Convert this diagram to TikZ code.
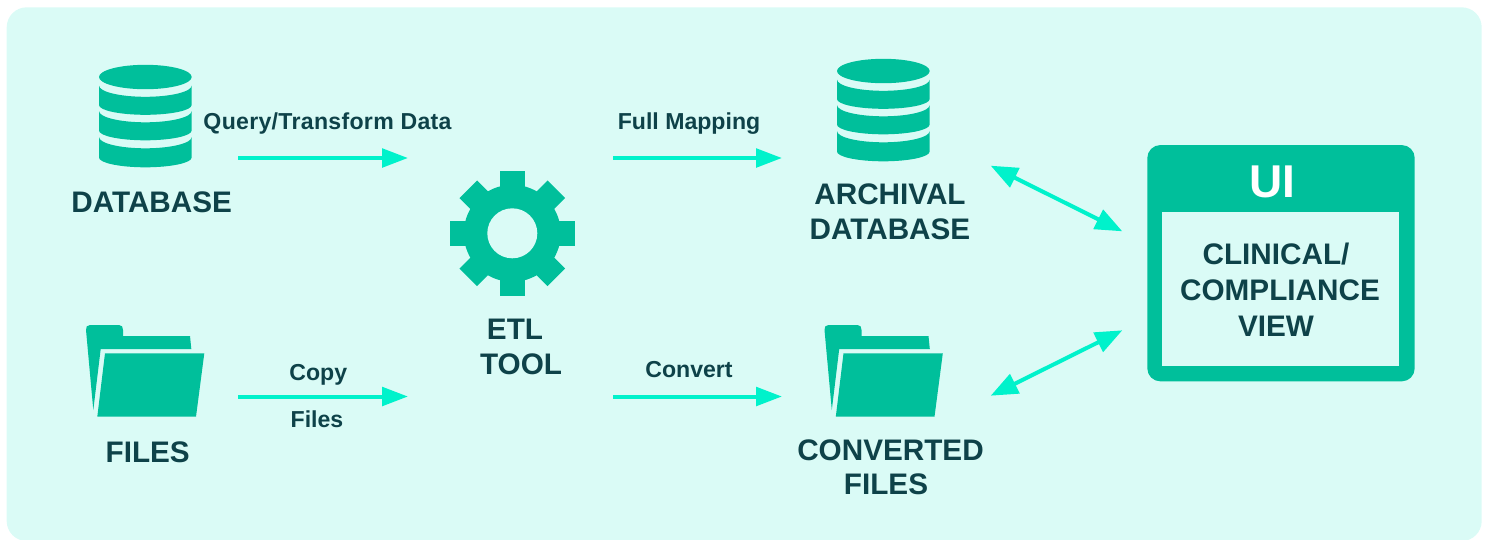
\documentclass[tikz,border=0pt]{standalone}
\usepackage{fontspec}
\setmainfont{Liberation Sans}
\usetikzlibrary{arrows.meta}
\definecolor{panelbg}{HTML}{DAFBF6}
\definecolor{teal}{HTML}{00BF9B}
\definecolor{ink}{HTML}{0E4249}
\definecolor{flow}{HTML}{00F2CB}
\tikzset{
  x=1pt,y=-1pt,
  big/.style={text=ink,font=\fontsize{29.7}{35}\selectfont\bfseries,anchor=base,inner sep=0pt},
  small/.style={text=ink,font=\fontsize{23.1}{26}\selectfont\bfseries,anchor=base,inner sep=0pt},
  flowline/.style={draw=flow,line width=4pt,-{Triangle[length=26pt,width=18.5pt,fill=flow]}},
  flowboth/.style={draw=flow,line width=4pt,{Triangle[length=27pt,width=21pt,fill=flow]}-{Triangle[length=27pt,width=21pt,fill=flow]}},
  dbicon/.pic={
    \fill[teal] (145.35,77) ellipse [x radius=46.35,y radius=12.2];
    \foreach \t/\b in {85.5/105,111/130.5,137/157.5}{
      \fill[teal] (99,\t) arc[start angle=180,end angle=0,x radius=46.35,y radius=11.3]
        -- (191.7,\b) arc[start angle=0,end angle=180,x radius=46.35,y radius=9.8] -- cycle;
    }
  },
  foldericon/.pic={
    \fill[teal] (93.3,410) -- (86,330) .. controls (85.7,327) and (87,325) .. (90,325)
      -- (119,325) .. controls (122,325) and (123,327) .. (123,330) -- (123,336)
      -- (190,336) -- (191.3,349) -- (100.7,349) -- cycle;
    \fill[teal] (105,353.3) -- (204.3,353.3) -- (196,416.7) -- (97.3,416.7) -- cycle;
  },
}
\begin{document}
\begin{tikzpicture}
\useasboundingbox (0,0) rectangle (1487,539);
\begin{scope}
\clip (0,0) rectangle (1487,539);
\fill[panelbg,rounded corners=20pt] (6.7,7.3) rectangle (1481.7,541);
\end{scope}

% icons
\pic at (0,0) {dbicon};
\pic at (738,-6) {dbicon};
\pic at (0,0) {foldericon};
\pic at (738.5,0) {foldericon};

% gear
\begin{scope}[shift={(512.3,233.3)}]
  \fill[teal] (0,0) circle[radius=48.5];
  \foreach \a in {0,45,...,315}{
    \fill[teal,rotate=\a] (-12.4,-62.3) rectangle (12.4,-40);
  }
  \fill[panelbg] (0,0) circle[radius=25];
\end{scope}

% UI panel
\node[fill=teal,rounded corners=13pt,minimum width=267.4pt,minimum height=236.3pt,inner sep=0pt] (uibox) at (1281,263.2) {};
\node[fill=panelbg,minimum width=237pt,minimum height=154.6pt,inner sep=0pt] (uiview) at (1280.8,289) {};

% big labels
\node[big] (dblabel) at (151.7,212.7) {DATABASE};
\node[big] (fileslabel) at (147.7,462.3) {FILES};
\node[big] (etl) at (515,339) {ETL};
\node[big] (tool) at (521,374) {TOOL};
\node[big] (archival) at (890,204.5) {ARCHIVAL};
\node[big] (archdb) at (890,239.5) {DATABASE};
\node[big] (converted) at (890.5,460) {CONVERTED};
\node[big] (convfiles) at (886,494) {FILES};
\node[big,text=white,font=\fontsize{46}{50}\selectfont\bfseries] (ui) at (1272.7,197.7) {UI};
\node[big] (clinical) at (1276,264.3) {CLINICAL/};
\node[big] (compliance) at (1280,300.7) {COMPLIANCE};
\node[big] (view) at (1276,336) {VIEW};

% small labels
\node[small] (qt) at (327.5,129) {\addfontfeature{LetterSpace=1.3}Query/Transform Data};
\node[small] (fm) at (689,129) {Full Mapping};
\node[small] (copy) at (318.3,380) {Copy};
\node[small] (files) at (317,427) {Files};
\node[small] (conv) at (689,377) {Convert};

% connector ends
\coordinate (a1) at (238,158);  \coordinate (a2) at (408,158);
\coordinate (b1) at (613,158);  \coordinate (b2) at (782,158);
\coordinate (c1) at (238,396.5);\coordinate (c2) at (408,396.5);
\coordinate (d1) at (613,396.5);\coordinate (d2) at (782,396.5);
\coordinate (e1) at (990.7,165.7); \coordinate (e2) at (1122.3,231.3);
\coordinate (f1) at (990.7,395.7); \coordinate (f2) at (1122.3,330.3);

\draw[flowline] (a1) -- (a2);
\draw[flowline] (b1) -- (b2);
\draw[flowline] (c1) -- (c2);
\draw[flowline] (d1) -- (d2);
\draw[flowboth] (e1) -- (e2);
\draw[flowboth] (f1) -- (f2);
\end{tikzpicture}
\end{document}
